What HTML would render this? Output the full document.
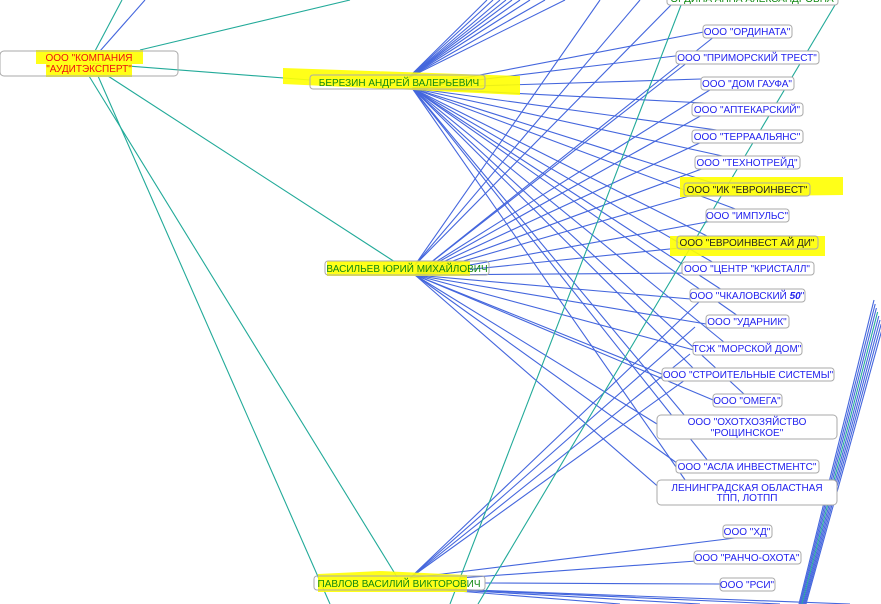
<!DOCTYPE html>
<html><head><meta charset="utf-8"><style>
html,body{margin:0;padding:0;background:#fff;width:881px;height:604px;overflow:hidden}
svg{display:block}
text{font-family:"Liberation Sans",sans-serif;font-size:10px}
.b{fill:#2222ee}.g{fill:#118811}.r{fill:#ee1111}.k{fill:#222}
rect.n{fill:#fff;stroke:#aaa;stroke-width:1}
</style></head><body>
<svg id="s" width="881" height="604" viewBox="0 0 881 604">
<g id="lines" fill="none" stroke-width="1.1"></g>
<g id="hl" fill="#ffff00" opacity="0.9">
<rect x="36" y="50" width="107" height="14"/><rect x="46" y="63" width="86" height="14"/>
<polygon points="283,68 520,76 520,95 283,84"/>
<rect x="327" y="261" width="143" height="15"/>
<polygon points="318,574 380,571 467,575 467,592 318,592"/>
<polygon points="680,177 843,177 843,195 680,197"/>
<polygon points="670,236 825,236 825,256 670,256"/>
</g>
<g text-anchor="middle">
<rect class="n" x="0" y="51" width="178" height="25" rx="4" fill-opacity="0"/>
<text class="r" x="89" y="61">ООО "КОМПАНИЯ</text><text class="r" x="89" y="72">"АУДИТЭКСПЕРТ"</text>
<rect class="n" x="310" y="75" width="175" height="14" rx="3" fill-opacity="0"/><text class="g" x="399" y="86">БЕРЕЗИН АНДРЕЙ ВАЛЕРЬЕВИЧ</text>
<rect class="n" x="325" y="261" width="164" height="14" rx="3" fill-opacity="0"/><text class="g" x="407" y="272">ВАСИЛЬЕВ ЮРИЙ МИХАЙЛОВИЧ</text>
<rect class="n" x="314" y="576" width="171" height="14" rx="3" fill-opacity="0"/><text class="g" x="399" y="587">ПАВЛОВ ВАСИЛИЙ ВИКТОРОВИЧ</text>
<rect class="n" x="667" y="-9" width="171" height="14" rx="3"/><text class="g" x="752" y="2">ОРДИНА АННА АЛЕКСАНДРОВНА</text>
<rect class="n" x="703" y="25" width="89" height="13" rx="3"/><text class="b" x="747" y="35">ООО "ОРДИНАТА"</text>
<rect class="n" x="676" y="51" width="143" height="13" rx="3"/><text class="b" x="747" y="61">ООО "ПРИМОРСКИЙ ТРЕСТ"</text>
<rect class="n" x="701" y="77" width="93" height="13" rx="3"/><text class="b" x="747" y="87">ООО "ДОМ ГАУФА"</text>
<rect class="n" x="692" y="103" width="111" height="13" rx="3"/><text class="b" x="747" y="113">ООО "АПТЕКАРСКИЙ"</text>
<rect class="n" x="692" y="130" width="111" height="13" rx="3"/><text class="b" x="747" y="140">ООО "ТЕРРААЛЬЯНС"</text>
<rect class="n" x="695" y="156" width="105" height="13" rx="3"/><text class="b" x="747" y="166">ООО "ТЕХНОТРЕЙД"</text>
<rect class="n" x="684" y="183" width="126" height="13" rx="3" fill-opacity="0"/><text class="k" x="747" y="193">ООО "ИК "ЕВРОИНВЕСТ"</text>
<rect class="n" x="706" y="209" width="83" height="13" rx="3"/><text class="b" x="747" y="219">ООО "ИМПУЛЬС"</text>
<rect class="n" x="677" y="236" width="141" height="13" rx="3" fill-opacity="0"/><text class="k" x="747" y="246">ООО "ЕВРОИНВЕСТ АЙ ДИ"</text>
<rect class="n" x="682" y="262" width="132" height="13" rx="3"/><text class="b" x="747" y="272">ООО "ЦЕНТР "КРИСТАЛЛ"</text>
<rect class="n" x="690" y="289" width="115" height="13" rx="3"/><text class="b" x="747" y="299">ООО "ЧКАЛОВСКИЙ <tspan font-weight="bold" font-style="italic">50</tspan>"</text>
<rect class="n" x="706" y="315" width="83" height="13" rx="3"/><text class="b" x="747" y="325">ООО "УДАРНИК"</text>
<rect class="n" x="693" y="342" width="109" height="13" rx="3"/><text class="b" x="747" y="352">ТСЖ "МОРСКОЙ ДОМ"</text>
<rect class="n" x="662" y="368" width="172" height="13" rx="3"/><text class="b" x="748" y="378">ООО "СТРОИТЕЛЬНЫЕ СИСТЕМЫ"</text>
<rect class="n" x="713" y="394" width="69" height="13" rx="3"/><text class="b" x="747" y="404">ООО "ОМЕГА"</text>
<rect class="n" x="657" y="415" width="180" height="24" rx="4"/><text class="b" x="747" y="425">ООО "ОХОТХОЗЯЙСТВО</text><text class="b" x="747" y="436">"РОЩИНСКОЕ"</text>
<rect class="n" x="676" y="460" width="143" height="13" rx="3"/><text class="b" x="747" y="470">ООО "АСЛА ИНВЕСТМЕНТС"</text>
<rect class="n" x="657" y="480" width="180" height="25" rx="4"/><text class="b" x="747" y="491">ЛЕНИНГРАДСКАЯ ОБЛАСТНАЯ</text><text class="b" x="747" y="501">ТПП, ЛОТПП</text>
<rect class="n" x="723" y="525" width="49" height="13" rx="3"/><text class="b" x="747" y="535">ООО "ХД"</text>
<rect class="n" x="694" y="551" width="107" height="13" rx="3"/><text class="b" x="747" y="561">ООО "РАНЧО-ОХОТА"</text>
<rect class="n" x="720" y="578" width="55" height="13" rx="3"/><text class="b" x="747" y="588">ООО "РСИ"</text>
</g>
</svg>
<script>
var L=document.getElementById('lines'),ns='http://www.w3.org/2000/svg';
function ln(a,b,c,d,col){var e=document.createElementNS(ns,'line');e.setAttribute('x1',a);e.setAttribute('y1',b);e.setAttribute('x2',c);e.setAttribute('y2',d);e.setAttribute('stroke',col);L.appendChild(e);}
var B='#4466dd',T='#22aa99';
var ys=[31,57,83,109,136,162,189,215,242,268,295,321,348,374,400,427,466,492];
var lx=[705,678,703,694,694,697,686,708,679,684,692,708,695,664,715,660,678,660];
for(var i=0;i<ys.length;i++){ln(412,88,lx[i]+30,ys[i]-5,B);ln(415,275,lx[i]+10,ys[i]+5,B);}
[487,493,500,506,512,520,530,545,565].forEach(function(x){ln(408,78,x,0,B);});
ln(415,265,672,4,B);ln(415,265,640,0,B);ln(415,265,600,0,B);
[295,321,348,374].forEach(function(y,i){ln(410,578,700-i*5,y+6,B);});
ln(410,578,735,538,B);ln(460,578,710,560,B);ln(485,583,720,584,B);
[620,700,780,850].forEach(function(x,i){ln(420,588,x,604,B);});
ln(89,63,310,80,T);ln(140,50,350,0,T);ln(95,51,122,0,T);ln(100,51,145,0,B);
ln(108,76,395,262,T);ln(89,76,397,577,T);ln(98,76,330,604,T);
ln(683,0,450,604,T);ln(838,0,478,604,T);
for(var k=0;k<8;k++){ln(799+k,604,874+k*1.2,300+k*4,k==3?T:B);}
</script>
</body></html>
